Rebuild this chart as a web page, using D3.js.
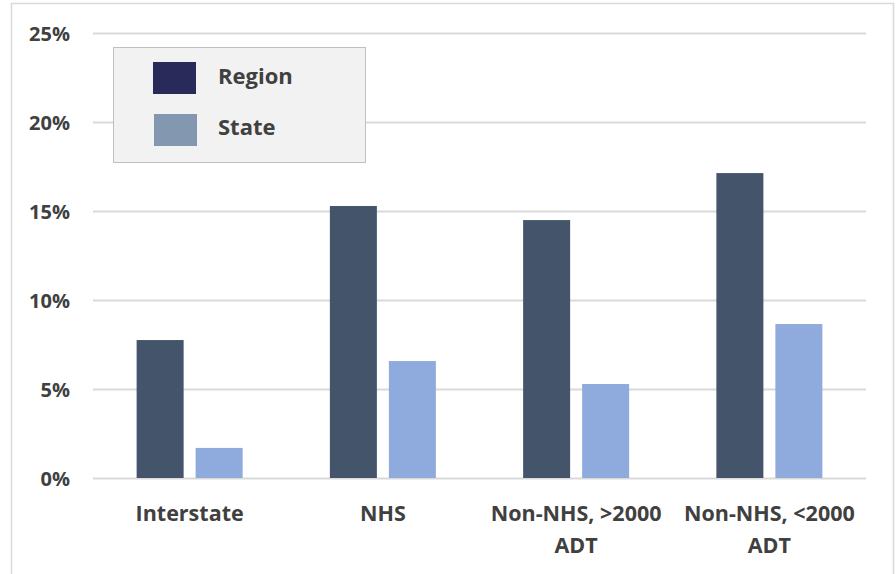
<!DOCTYPE html>
<html><head><meta charset="utf-8">
<script src="https://cdn.jsdelivr.net/npm/d3@7"></script>
<style>body{margin:0;background:#fff}svg{display:block}text{font-family:"Open Sans",sans-serif;font-weight:700;fill:#404040}</style>
</head><body><svg id="c" width="896" height="574"></svg>
<script>
const categories = [["Interstate"],["NHS"],["Non-NHS, >2000","ADT"],["Non-NHS, <2000","ADT"]];
const seriesNames = ["Region","State"];
const regionValues = [7.75, 15.28, 14.49, 17.13];
const stateValues = [1.69, 6.57, 5.28, 8.65];
const yTicks = [0,5,10,15,20,25];
const barColors = ["#44546A","#8FAADC"];
const legendColors = ["#2A2A5A","#8497B0"];

(function(){
const svg = d3.select("#c");
svg.append("rect").attr("x",11.5).attr("y",3.5).attr("width",882).attr("height",600).attr("fill","#fff").attr("stroke","#D9D9D9").attr("stroke-width",1.5);

const pl=93, pr=866, pt=33, pb=478;
const x = d3.scaleBand().domain(d3.range(categories.length)).range([pl,pr]);
const y = d3.scaleLinear().domain([0,25]).range([pb,pt]);
const groupW = 106, barW = 47, gap = 12;

const yAxis = d3.axisLeft(y).tickValues(yTicks).tickSize(-(pr-pl)).tickFormat(d=>d+"%").tickPadding(23);
const ga = svg.append("g").attr("transform",`translate(${pl},0)`).call(yAxis);
ga.select(".domain").remove();
ga.attr("font-family",null);
ga.selectAll(".tick line").attr("stroke","#D9D9D9").attr("stroke-width",2);
ga.selectAll(".tick text").style("font-size","20px").attr("fill","#404040").attr("dy","0.36em");

const g = svg.append("g");
categories.forEach((c,i)=>{
  const cx = x(i)+x.bandwidth()/2;
  [regionValues[i], stateValues[i]].forEach((v,j)=>{
    const bx = cx - groupW/2 + j*(barW+gap);
    g.append("rect").attr("x",bx).attr("width",barW).attr("y",y(v)).attr("height",y(0)-y(v)).attr("fill",barColors[j]);
  });
  const t = svg.append("text").attr("text-anchor","middle").style("font-size","21.5px");
  c.forEach((line,k)=>{
    t.append("tspan").attr("x",cx).attr("y",521+k*32).text(line);
  });
});

const lg = svg.append("g");
lg.append("rect").attr("x",113.5).attr("y",47.5).attr("width",252).attr("height",115).attr("fill","#F2F2F2").attr("stroke","#BFBFBF").attr("stroke-width",1);
seriesNames.forEach((n,j)=>{
  lg.append("rect").attr("x",153+j).attr("y",62+j*52).attr("width",43).attr("height",32).attr("fill",legendColors[j]);
  lg.append("text").attr("x",218).attr("y",84+j*51).style("font-size","22px").text(n);
});
})();
</script></body></html>
